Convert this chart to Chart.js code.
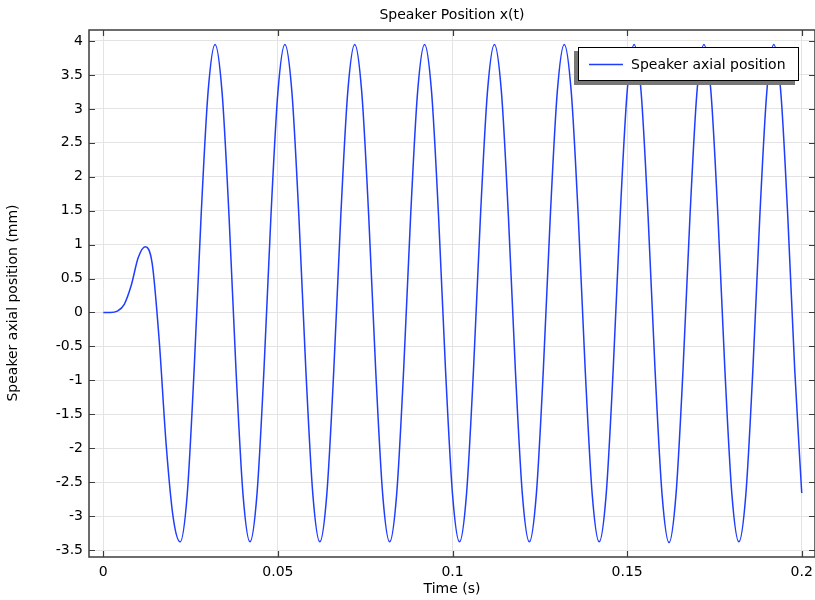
<!DOCTYPE html>
<html>
<head>
<meta charset="utf-8">
<title>Speaker Position x(t)</title>
<script src="https://cdn.jsdelivr.net/npm/chart.js@4.4.1/dist/chart.umd.min.js"></script>
<style>
    html, body { margin: 0; padding: 0; background: #fff; }
    #wrap { width: 815px; height: 600px; }
</style>
</head>
<body>
<div id="wrap"><canvas id="positionChart" width="815" height="600"></canvas></div>
<script>
// time (s), read every 2 ms
const timeS = [
    0, 0.002, 0.004, 0.006, 0.008, 0.010, 0.012, 0.014, 0.016, 0.018,
    0.020, 0.022, 0.024, 0.026, 0.028, 0.030, 0.032, 0.034, 0.036, 0.038,
    0.040, 0.042, 0.044, 0.046, 0.048, 0.050, 0.052, 0.054, 0.056, 0.058,
    0.060, 0.062, 0.064, 0.066, 0.068, 0.070, 0.072, 0.074, 0.076, 0.078,
    0.080, 0.082, 0.084, 0.086, 0.088, 0.090, 0.092, 0.094, 0.096, 0.098,
    0.100, 0.102, 0.104, 0.106, 0.108, 0.110, 0.112, 0.114, 0.116, 0.118,
    0.120, 0.122, 0.124, 0.126, 0.128, 0.130, 0.132, 0.134, 0.136, 0.138,
    0.140, 0.142, 0.144, 0.146, 0.148, 0.150, 0.152, 0.154, 0.156, 0.158,
    0.160, 0.162, 0.164, 0.166, 0.168, 0.170, 0.172, 0.174, 0.176, 0.178,
    0.180, 0.182, 0.184, 0.186, 0.188, 0.190, 0.192, 0.194, 0.196, 0.198,
    0.200
];

// speaker axial position (mm)
const positionMm = [
    0, 0, 0.02, 0.12, 0.40, 0.81, 0.97, 0.72, -0.41, -1.95,
    -3.02, -3.38, -2.70, -0.85, 1.42, 3.25, 3.95, 3.25, 1.42, -0.85,
    -2.68, -3.38, -2.68, -0.85, 1.42, 3.25, 3.95, 3.25, 1.42, -0.85,
    -2.68, -3.38, -2.68, -0.85, 1.42, 3.25, 3.95, 3.25, 1.42, -0.85,
    -2.68, -3.38, -2.68, -0.85, 1.42, 3.25, 3.95, 3.25, 1.42, -0.85,
    -2.68, -3.38, -2.68, -0.85, 1.42, 3.25, 3.95, 3.25, 1.42, -0.85,
    -2.68, -3.38, -2.68, -0.85, 1.42, 3.25, 3.95, 3.25, 1.42, -0.85,
    -2.68, -3.38, -2.68, -0.85, 1.42, 3.25, 3.95, 3.25, 1.42, -0.85,
    -2.68, -3.39, -2.68, -0.85, 1.42, 3.25, 3.95, 3.25, 1.42, -0.85,
    -2.68, -3.38, -2.68, -0.85, 1.42, 3.25, 3.95, 3.25, 1.42, -0.85,
    -2.66
];

const xTicks = [0, 0.05, 0.1, 0.15, 0.2];
const yTicks = [-3.5, -3, -2.5, -2, -1.5, -1, -0.5, 0, 0.5, 1, 1.5, 2, 2.5, 3, 3.5, 4];

const lineColor = '#1f3dff';
const fontFamily = '"DejaVu Sans", Verdana, sans-serif';
const fontSize = 14;

// frame with inward ticks on all four sides, title, y title and the boxed legend
const comsolFrame = {
    id: 'comsolFrame',
    afterDraw(chart) {
        const { ctx, chartArea: a, scales: { x, y } } = chart;
        const tick = 6;
        ctx.save();
        ctx.strokeStyle = '#3c3c3c';
        ctx.lineWidth = 1.5;
        ctx.strokeRect(a.left, a.top, a.right - a.left, a.bottom - a.top);
        ctx.lineWidth = 1.2;
        ctx.beginPath();
        xTicks.forEach(v => {
            const px = Math.round(x.getPixelForValue(v)) + 0.5;
            ctx.moveTo(px, a.bottom); ctx.lineTo(px, a.bottom - tick);
            ctx.moveTo(px, a.top); ctx.lineTo(px, a.top + tick);
        });
        yTicks.forEach(v => {
            const py = Math.round(y.getPixelForValue(v)) + 0.5;
            ctx.moveTo(a.left, py); ctx.lineTo(a.left + tick, py);
            ctx.moveTo(a.right, py); ctx.lineTo(a.right - tick, py);
        });
        ctx.stroke();

        ctx.fillStyle = '#000';
        ctx.font = fontSize + 'px ' + fontFamily;
        ctx.textAlign = 'center';
        ctx.textBaseline = 'alphabetic';
        ctx.fillText('Speaker Position x(t)', (a.left + a.right) / 2, 19);

        ctx.save();
        ctx.translate(17, 303);
        ctx.rotate(-Math.PI / 2);
        ctx.fillText('Speaker axial position (mm)', 0, 0);
        ctx.restore();

        // legend
        const ds = chart.data.datasets[0];
        const bx = a.right - 237, by = a.top + 17, bw = 221, bh = 34;
        ctx.fillStyle = '#777';
        ctx.fillRect(bx - 4, by + 4, bw, bh);
        ctx.fillStyle = '#fff';
        ctx.fillRect(bx, by, bw, bh);
        ctx.strokeStyle = '#000';
        ctx.lineWidth = 1;
        ctx.strokeRect(bx + 0.5, by + 0.5, bw - 1, bh - 1);
        ctx.strokeStyle = ds.borderColor;
        ctx.lineWidth = 1.4;
        ctx.beginPath();
        ctx.moveTo(bx + 11, by + 17.5);
        ctx.lineTo(bx + 45, by + 17.5);
        ctx.stroke();
        ctx.fillStyle = '#000';
        ctx.textAlign = 'left';
        ctx.fillText(ds.label, bx + 53, by + 22);
        ctx.restore();
    }
};

new Chart(document.getElementById('positionChart'), {
    type: 'line',
    data: {
        datasets: [{
            label: 'Speaker axial position',
            data: timeS.map((t, i) => ({ x: t, y: positionMm[i] })),
            borderColor: lineColor,
            borderWidth: 1.5,
            pointRadius: 0,
            fill: false,
            cubicInterpolationMode: 'monotone'
        }]
    },
    options: {
        responsive: false,
        animation: false,
        events: [],
        layout: { padding: { top: 30, right: 0, bottom: 0, left: 0 } },
        plugins: { legend: { display: false }, tooltip: { enabled: false }, title: { display: false } },
        scales: {
            x: {
                type: 'linear',
                min: -0.0041,
                max: 0.2038,
                afterBuildTicks: s => { s.ticks = xTicks.map(v => ({ value: v })); },
                afterFit: s => { s.height = 43; s.paddingLeft = 0; s.paddingRight = 0; },
                grid: { color: '#e4e4e4', lineWidth: 1, drawTicks: false },
                border: { display: false },
                ticks: { padding: 7, color: '#000', autoSkip: false, maxRotation: 0, font: { size: fontSize, family: fontFamily }, callback: v => String(v) },
                title: { display: true, text: 'Time (s)', color: '#000', font: { size: fontSize, family: fontFamily }, padding: { top: 0, bottom: 2 } }
            },
            y: {
                min: -3.603,
                max: 4.162,
                afterBuildTicks: s => { s.ticks = yTicks.map(v => ({ value: v })); },
                afterFit: s => { s.width = 89; s.paddingTop = 0; s.paddingBottom = 0; },
                grid: { color: '#e4e4e4', lineWidth: 1, drawTicks: false },
                border: { display: false },
                ticks: { padding: 6, color: '#000', autoSkip: false, font: { size: fontSize, family: fontFamily }, callback: v => String(v) }
            }
        }
    },
    plugins: [comsolFrame]
});
</script>
</body>
</html>
